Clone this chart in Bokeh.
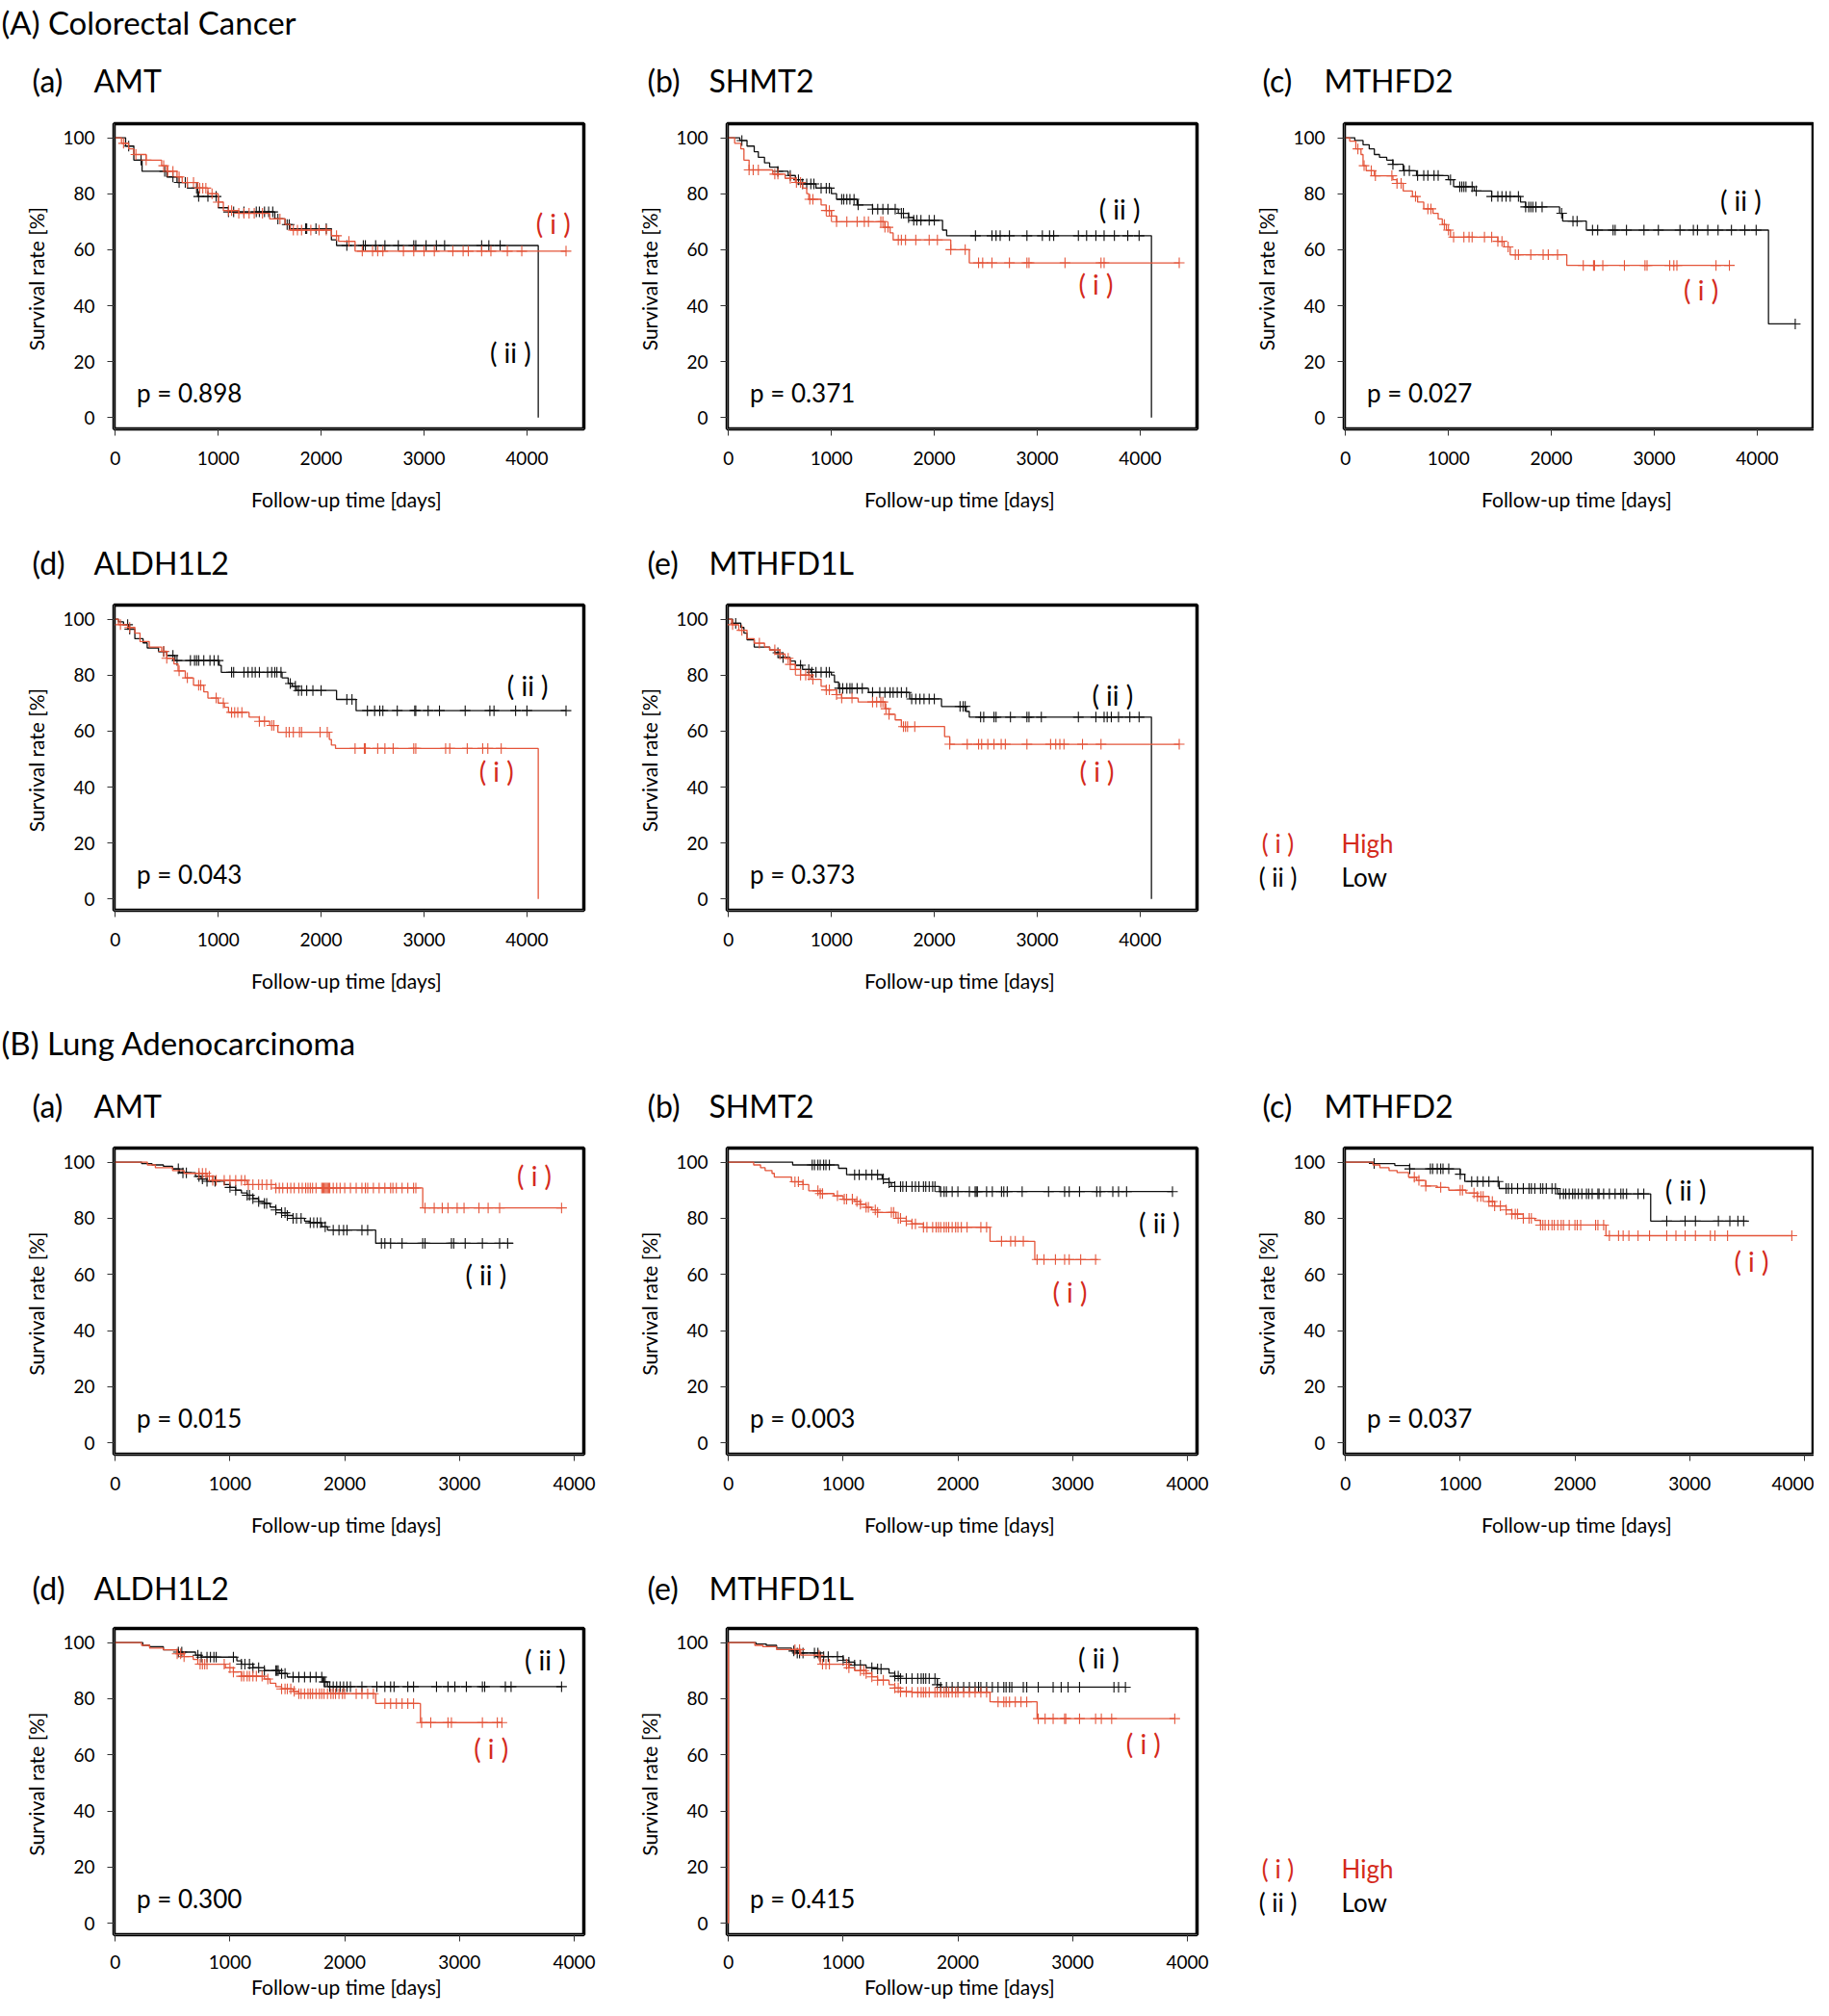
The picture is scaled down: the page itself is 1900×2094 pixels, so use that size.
import numpy as np
from bokeh.plotting import figure
from bokeh.layouts import column, row
from bokeh.models import Range1d, FixedTicker
from bokeh.core.properties import value
from bokeh.embed import file_html
from bokeh.resources import INLINE

FONT = "Lato"
RED_LINE = "#E4553A"
RED_TEXT = "#D42A1C"
BLACK = "#111111"

# ---------------- data: (A) Colorectal cancer ----------------
A_AMT_high_t = [0, 60, 130, 180, 300, 450, 500, 600, 650, 800, 900, 1000, 1050, 1200, 1500, 1650, 1700, 2100, 2170, 2330]
A_AMT_high_s = [100, 98, 96, 94, 92, 90, 88, 86, 84, 82, 80, 77, 74, 73, 71, 69, 67, 65, 63, 59.5]
A_AMT_high_end = 4380
A_AMT_high_cens = [80, 200, 300, 470, 510, 560, 620, 700, 760, 820, 850, 880, 940, 1000, 1100, 1130, 1200, 1250, 1300, 1350, 1430, 1600, 1730, 1770, 1810, 1900, 1980, 2050, 2150, 2270, 2400, 2500, 2550, 2600, 2800, 2900, 3000, 3100, 3280, 3380, 3430, 3560, 3650, 3810, 3950, 4380]
A_AMT_low_t = [0, 100, 180, 260, 500, 600, 700, 800, 1000, 1100, 1550, 1650, 1700, 2100, 2150, 4110]
A_AMT_low_s = [100, 97, 92, 88, 86, 84, 82, 79, 75, 73.5, 71, 69, 67.5, 63.5, 61.5, 0]
A_AMT_low_end = 4110
A_AMT_low_cens = [130, 250, 480, 560, 620, 680, 790, 810, 900, 980, 1100, 1150, 1250, 1370, 1400, 1450, 1490, 1530, 1580, 1670, 1690, 1850, 1860, 1950, 2050, 2250, 2410, 2430, 2530, 2620, 2750, 2900, 2920, 3020, 3120, 3200, 3560, 3630, 3740]

A_SHMT2_high_t = [0, 60, 120, 150, 200, 430, 550, 650, 720, 760, 780, 900, 950, 1000, 1050, 1520, 1570, 1600, 2160, 2340]
A_SHMT2_high_s = [100, 98, 96, 92, 88.5, 87, 85.5, 84, 82, 80, 78, 76, 74, 72, 70, 68, 66, 63.5, 60, 55.3]
A_SHMT2_high_end = 4380
A_SHMT2_high_cens = [200, 240, 290, 450, 480, 600, 660, 700, 790, 820, 950, 980, 1000, 1050, 1150, 1250, 1320, 1360, 1480, 1500, 1520, 1550, 1650, 1680, 1720, 1820, 1950, 2030, 2160, 2300, 2430, 2470, 2560, 2730, 2900, 2920, 3270, 3620, 3650, 4380]
A_SHMT2_low_t = [0, 110, 180, 250, 290, 350, 400, 480, 580, 650, 700, 850, 1000, 1050, 1250, 1400, 1650, 1750, 1800, 2080, 2120, 4110]
A_SHMT2_low_s = [100, 99, 97, 95, 93, 91, 89.5, 88, 86.5, 85, 83.5, 82, 80, 78, 76, 74.5, 73, 71.5, 70.5, 67, 65, 0]
A_SHMT2_low_end = 4110
A_SHMT2_low_cens = [130, 480, 600, 680, 720, 760, 800, 830, 900, 950, 980, 1100, 1120, 1150, 1180, 1220, 1260, 1400, 1450, 1500, 1550, 1620, 1680, 1700, 1750, 1800, 1830, 1870, 1950, 2000, 2400, 2560, 2600, 2640, 2730, 2900, 3050, 3120, 3160, 3400, 3480, 3570, 3650, 3750, 3880, 3990]

A_MTHFD2_high_t = [0, 40, 100, 150, 170, 200, 280, 460, 500, 560, 650, 700, 760, 850, 900, 940, 980, 1020, 1480, 1540, 1600, 2150]
A_MTHFD2_high_s = [100, 98.8, 96, 94, 90, 88.2, 86.4, 85, 83.7, 81, 79, 77, 74.6, 73, 71, 69, 67, 64.5, 63, 61, 58.2, 54.4]
A_MTHFD2_high_end = 3730
A_MTHFD2_high_cens = [120, 180, 250, 290, 450, 500, 540, 680, 800, 830, 960, 1000, 1050, 1150, 1200, 1230, 1350, 1420, 1480, 1520, 1580, 1650, 1680, 1800, 1920, 1970, 2060, 2310, 2410, 2420, 2500, 2710, 2910, 2930, 3150, 3190, 3220, 3600, 3730]
A_MTHFD2_low_t = [0, 90, 170, 230, 280, 330, 400, 460, 560, 690, 1000, 1050, 1250, 1420, 1700, 1750, 2080, 2110, 2340, 4110]
A_MTHFD2_low_s = [100, 99, 97.5, 96, 94, 93, 92, 90.5, 88.2, 86.5, 85, 82.5, 81, 79, 77, 75.3, 73, 70.2, 67, 33.5]
A_MTHFD2_low_end = 4370
A_MTHFD2_low_cens = [460, 570, 620, 700, 760, 800, 860, 900, 1020, 1110, 1130, 1150, 1170, 1230, 1270, 1420, 1480, 1520, 1560, 1600, 1680, 1750, 1780, 1800, 1820, 1850, 1910, 2100, 2210, 2250, 2400, 2450, 2600, 2620, 2730, 2900, 3040, 3250, 3380, 3420, 3520, 3620, 3750, 3880, 3990, 4370]

A_ALDH1L2_high_t = [0, 30, 120, 190, 240, 330, 450, 500, 570, 610, 680, 760, 860, 900, 1000, 1060, 1100, 1300, 1400, 1500, 1580, 2080, 2100, 2140, 4110]
A_ALDH1L2_high_s = [100, 98, 97, 95, 92, 90, 88.5, 86, 84, 81.5, 79, 76.4, 74, 71.8, 70, 68.5, 66.7, 65, 63.5, 62, 59.6, 57, 55, 53.8, 0]
A_ALDH1L2_high_end = 4110
A_ALDH1L2_high_cens = [50, 140, 470, 500, 620, 700, 810, 830, 980, 1050, 1130, 1160, 1190, 1230, 1400, 1450, 1520, 1540, 1660, 1690, 1730, 1790, 1810, 1990, 2060, 2330, 2420, 2430, 2550, 2620, 2700, 2900, 2920, 3210, 3250, 3420, 3570, 3620, 3750]
A_ALDH1L2_low_t = [0, 30, 80, 130, 190, 270, 310, 420, 500, 580, 1010, 1030, 1620, 1680, 1720, 1760, 2150, 2340]
A_ALDH1L2_low_s = [100, 99, 98, 96.4, 93, 91.5, 89.7, 88.4, 87, 85.2, 83.5, 81, 79, 77, 76, 74.5, 71.3, 67.3]
A_ALDH1L2_low_end = 4380
A_ALDH1L2_low_cens = [120, 140, 470, 560, 600, 730, 770, 790, 810, 860, 920, 960, 1000, 1130, 1150, 1250, 1290, 1330, 1360, 1400, 1480, 1520, 1550, 1570, 1610, 1700, 1750, 1780, 1810, 1860, 1920, 2000, 2250, 2300, 2450, 2520, 2570, 2600, 2740, 2910, 2920, 3040, 3150, 3400, 3640, 3680, 3890, 4000, 4380]

A_MTHFD1L_high_t = [0, 30, 100, 180, 250, 350, 400, 500, 550, 600, 650, 700, 800, 900, 950, 1050, 1100, 1260, 1520, 1560, 1620, 1680, 2100, 2150]
A_MTHFD1L_high_s = [100, 98, 96, 93, 91.4, 90, 89, 87.5, 86, 83.8, 82, 80, 78.5, 76, 74.7, 73, 71.8, 70.4, 68, 66, 64, 61.6, 58, 55.3]
A_MTHFD1L_high_end = 4380
A_MTHFD1L_high_cens = [40, 130, 300, 450, 500, 580, 600, 650, 700, 750, 780, 820, 950, 980, 1050, 1100, 1200, 1400, 1440, 1480, 1500, 1530, 1560, 1700, 1720, 1740, 1810, 2150, 2320, 2430, 2460, 2520, 2580, 2650, 2690, 2900, 3130, 3180, 3220, 3260, 3440, 3620, 4380]
A_MTHFD1L_low_t = [0, 40, 120, 150, 180, 250, 400, 450, 500, 600, 650, 720, 800, 1000, 1030, 1070, 1360, 1760, 2070, 2310, 2340, 4110]
A_MTHFD1L_low_s = [100, 98.5, 97, 95, 92.6, 90, 89, 88, 86.3, 85, 83.5, 82, 81, 80, 77.5, 75.3, 73.8, 71.5, 68.8, 67, 65, 0]
A_MTHFD1L_low_end = 4110
A_MTHFD1L_low_cens = [70, 480, 530, 700, 780, 810, 850, 900, 950, 980, 1080, 1110, 1150, 1180, 1200, 1250, 1300, 1400, 1470, 1520, 1570, 1600, 1640, 1680, 1730, 1780, 1820, 1860, 1900, 1950, 2000, 2250, 2280, 2300, 2450, 2480, 2580, 2600, 2740, 2900, 2920, 3040, 3400, 3570, 3650, 3680, 3720, 3790, 3900, 3990]

# ---------------- data: (B) Lung adenocarcinoma ----------------
B_AMT_high_t = [0, 280, 350, 500, 600, 800, 850, 1150, 1400, 2680]
B_AMT_high_s = [100, 99, 98, 97, 96, 95, 93.5, 92, 90.8, 83.7]
B_AMT_high_end = 3890
B_AMT_high_cens = [730, 760, 790, 820, 850, 880, 950, 1000, 1050, 1100, 1130, 1160, 1200, 1250, 1280, 1320, 1360, 1400, 1430, 1460, 1500, 1530, 1560, 1600, 1630, 1660, 1680, 1700, 1720, 1750, 1800, 1810, 1820, 1830, 1840, 1850, 1860, 1870, 1900, 1930, 1960, 2000, 2050, 2100, 2150, 2180, 2200, 2250, 2300, 2350, 2400, 2420, 2450, 2500, 2550, 2600, 2620, 2700, 2780, 2850, 2900, 2980, 3040, 3170, 3250, 3350, 3890]
B_AMT_low_t = [0, 230, 320, 420, 500, 560, 700, 750, 800, 950, 1000, 1050, 1100, 1150, 1200, 1250, 1300, 1350, 1400, 1450, 1500, 1550, 1650, 1700, 1800, 1850, 2270]
B_AMT_low_s = [100, 99.5, 99, 98.5, 97.6, 96.2, 94.9, 94, 93.2, 92, 91, 90, 89, 88.2, 87, 86, 85.3, 84, 83, 82, 81, 80, 79, 78.4, 77, 75.8, 71.1]
B_AMT_low_end = 3470
B_AMT_low_cens = [550, 590, 620, 730, 760, 800, 870, 1000, 1050, 1150, 1170, 1200, 1250, 1300, 1320, 1400, 1450, 1480, 1500, 1550, 1580, 1620, 1700, 1730, 1760, 1790, 1830, 1900, 1950, 1990, 2020, 2150, 2200, 2320, 2350, 2400, 2500, 2680, 2700, 2930, 2950, 3050, 3200, 3350, 3420]

B_SHMT2_high_t = [0, 220, 280, 320, 380, 400, 550, 650, 700, 800, 920, 1000, 1100, 1150, 1200, 1250, 1300, 1460, 1550, 1600, 1700, 2280, 2670]
B_SHMT2_high_s = [100, 99, 98, 97, 96, 94.7, 93, 92, 89.8, 88.8, 88, 86.8, 86, 85, 83.9, 83, 82.1, 80, 79, 78, 76.8, 71.8, 65.3]
B_SHMT2_high_end = 3220
B_SHMT2_high_cens = [580, 610, 650, 780, 800, 820, 950, 1010, 1030, 1080, 1120, 1150, 1200, 1220, 1280, 1300, 1420, 1440, 1480, 1500, 1550, 1600, 1630, 1700, 1730, 1780, 1810, 1830, 1850, 1880, 1900, 1920, 1950, 1980, 2000, 2030, 2080, 2200, 2250, 2380, 2460, 2500, 2570, 2690, 2750, 2850, 2930, 2970, 3070, 3200]
B_SHMT2_low_t = [0, 560, 960, 1030, 1340, 1400, 1420, 1840]
B_SHMT2_low_s = [100, 99, 97.8, 95.5, 94, 92.7, 91.3, 89.5]
B_SHMT2_low_end = 3870
B_SHMT2_low_cens = [730, 750, 780, 800, 830, 850, 880, 1100, 1140, 1200, 1250, 1300, 1350, 1400, 1450, 1500, 1520, 1550, 1600, 1630, 1660, 1700, 1720, 1750, 1780, 1800, 1850, 1880, 1900, 1950, 2000, 2100, 2150, 2160, 2170, 2250, 2300, 2380, 2400, 2430, 2560, 2790, 2930, 2970, 3060, 3210, 3240, 3350, 3400, 3470, 3870]

B_MTHFD2_high_t = [0, 240, 300, 380, 450, 550, 620, 700, 800, 900, 1050, 1150, 1250, 1300, 1400, 1450, 1550, 1650, 1700, 2270]
B_MTHFD2_high_s = [100, 99, 98, 97, 96.3, 94.6, 93.5, 91.5, 91, 90, 89, 87.8, 86, 84.4, 83, 81.5, 80, 79.3, 77.6, 73.8]
B_MTHFD2_high_end = 3890
B_MTHFD2_high_cens = [600, 640, 700, 830, 1000, 1020, 1120, 1150, 1180, 1200, 1250, 1280, 1300, 1350, 1400, 1450, 1480, 1500, 1550, 1600, 1620, 1700, 1720, 1740, 1770, 1800, 1820, 1850, 1880, 1900, 1950, 2000, 2020, 2050, 2180, 2200, 2250, 2300, 2380, 2420, 2470, 2550, 2650, 2800, 2880, 2960, 3050, 3180, 3220, 3330, 3890]
B_MTHFD2_low_t = [0, 240, 430, 560, 1000, 1040, 1340, 1850, 2660]
B_MTHFD2_low_s = [100, 99.5, 98.8, 97.6, 95.7, 93.1, 90.6, 88.7, 79]
B_MTHFD2_low_end = 3500
B_MTHFD2_low_cens = [250, 560, 740, 760, 800, 830, 850, 900, 1000, 1100, 1150, 1200, 1250, 1330, 1400, 1420, 1450, 1500, 1550, 1600, 1620, 1650, 1700, 1720, 1750, 1800, 1830, 1870, 1900, 1920, 1950, 1980, 2000, 2030, 2060, 2100, 2120, 2150, 2200, 2210, 2250, 2300, 2350, 2400, 2420, 2450, 2550, 2600, 2800, 2960, 3050, 3250, 3350, 3420, 3470]

B_ALDH1L2_high_t = [0, 230, 300, 420, 540, 600, 680, 720, 960, 1030, 1100, 1300, 1350, 1400, 1450, 1550, 1600, 2270, 2660]
B_ALDH1L2_high_s = [100, 99, 98, 97.4, 96, 95, 94, 92.3, 91, 89.5, 88, 87, 85.5, 84.3, 83.5, 82.6, 81.8, 78.3, 71.5]
B_ALDH1L2_high_end = 3370
B_ALDH1L2_high_cens = [540, 570, 600, 740, 760, 780, 800, 950, 1000, 1030, 1100, 1120, 1150, 1170, 1200, 1230, 1280, 1330, 1450, 1480, 1500, 1530, 1560, 1600, 1620, 1650, 1680, 1700, 1720, 1750, 1780, 1800, 1820, 1850, 1880, 1900, 1920, 1950, 1980, 2000, 2100, 2150, 2200, 2250, 2350, 2400, 2450, 2500, 2550, 2600, 2670, 2750, 2900, 2930, 3200, 3330, 3370]
B_ALDH1L2_low_t = [0, 240, 300, 420, 550, 700, 750, 1060, 1100, 1200, 1300, 1430, 1500, 1810, 1850]
B_ALDH1L2_low_s = [100, 99, 98.5, 97.4, 96.6, 95.5, 94.8, 93.5, 92.3, 91, 90, 89, 87.7, 86, 84.3]
B_ALDH1L2_low_end = 3890
B_ALDH1L2_low_cens = [550, 580, 720, 750, 800, 830, 860, 880, 1030, 1100, 1130, 1170, 1200, 1250, 1300, 1400, 1410, 1420, 1450, 1480, 1550, 1600, 1650, 1700, 1750, 1800, 1820, 1830, 1870, 1900, 1930, 1960, 1990, 2020, 2050, 2150, 2280, 2350, 2400, 2430, 2550, 2600, 2800, 2900, 2960, 3060, 3200, 3220, 3400, 3450, 3890]

B_MTHFD1L_high_t = [0, 230, 300, 420, 630, 800, 1050, 1100, 1200, 1250, 1300, 1400, 1450, 1500, 1600, 2280, 2690]
B_MTHFD1L_high_s = [100, 99, 98.5, 97.5, 95.5, 92.3, 91, 90, 89, 87.8, 86.6, 85, 83.8, 82.5, 82.3, 78.9, 72.9]
B_MTHFD1L_high_end = 3890
B_MTHFD1L_high_cens = [580, 620, 790, 820, 850, 880, 1030, 1050, 1150, 1180, 1200, 1250, 1300, 1350, 1450, 1480, 1500, 1550, 1600, 1650, 1680, 1700, 1720, 1750, 1800, 1820, 1850, 1880, 1900, 1920, 1950, 1980, 2000, 2050, 2100, 2150, 2200, 2250, 2350, 2400, 2420, 2450, 2500, 2550, 2600, 2700, 2760, 2830, 2930, 2940, 3060, 3200, 3250, 3340, 3890]
B_MTHFD1L_low_t = [0, 240, 330, 420, 550, 600, 800, 1000, 1050, 1100, 1200, 1300, 1400, 1450, 1500, 1820, 1850]
B_MTHFD1L_low_s = [100, 99.5, 99, 98, 97, 96.3, 95, 93.7, 93, 92, 91, 90.6, 89.1, 88, 87.2, 85, 84.1]
B_MTHFD1L_low_end = 3460
B_MTHFD1L_low_cens = [570, 600, 620, 650, 750, 780, 800, 830, 870, 950, 1000, 1050, 1100, 1150, 1250, 1300, 1330, 1450, 1480, 1500, 1550, 1600, 1650, 1680, 1700, 1720, 1750, 1800, 1820, 1850, 1900, 1950, 2000, 2050, 2100, 2150, 2180, 2200, 2250, 2300, 2350, 2400, 2420, 2450, 2470, 2570, 2600, 2700, 2830, 2900, 2960, 3060, 3360, 3400, 3460]
B_MTHFD1L_artifact_x = [0, 0]
B_MTHFD1L_artifact_y = [0, 100]

# p-values and labels
A_pvals = ["p = 0.898", "p = 0.371", "p = 0.027", "p = 0.043", "p = 0.373"]
B_pvals = ["p = 0.015", "p = 0.003", "p = 0.037", "p = 0.300", "p = 0.415"]
panel_letters = ["(a)", "(b)", "(c)", "(d)", "(e)"]
gene_names = ["AMT", "SHMT2", "MTHFD2", "ALDH1L2", "MTHFD1L"]
section_titles = ["(A) Colorectal Cancer", "(B) Lung Adenocarcinoma"]
group_marks = ["( i )", "( ii )"]
legend_names = ["High", "Low"]
x_ticks = [0, 1000, 2000, 3000, 4000]
y_ticks = [0, 20, 40, 60, 80, 100]

# annotation positions (data units) for "( i )" and "( ii )"
A_lab_i = [(4255, 69.4), (3570, 47.6), (3455, 45.7), (3703, 45.6), (3580, 45.6)]
A_lab_ii = [(3840, 23.5), (3800, 74.7), (3840, 77.6), (4007, 76.4), (3733, 73.0)]
B_lab_i = [(3652, 95.3), (2976, 53.9), (3538, 64.6), (3276, 62.2), (3617, 64.0)]
B_lab_ii = [(3231, 59.9), (3756, 78.6), (2965, 90.0), (3747, 94.0), (3227, 94.6)]

# ---------------- layout geometry (px) ----------------
COL_W = [638, 640, 606]
COL_LEFT = [118, 117, 118]
FRAME_W = 488
TOTAL_W = sum(COL_W)
TITLE_X = [(33, 97), (672, 736), (1311, 1375)]


def curve(t, s, end):
    return list(t) + [end], list(s) + [s[-1]]


def cens_y(t, s, c):
    idx = np.searchsorted(np.asarray(t, float), np.asarray(c, float), side="right") - 1
    return np.asarray(s, float)[idx]


def panel(col, height, top, bottom, xr, high, low, lab_i, lab_ii, ptxt,
          tick_standoff=16, label_standoff=20, extra=None):
    w = COL_W[col]
    right = w - COL_LEFT[col] - FRAME_W
    p = figure(width=w, height=height, x_range=Range1d(*xr), y_range=Range1d(-4, 105),
               output_backend="svg", toolbar_location=None, title=None,
               min_border_left=COL_LEFT[col], min_border_right=right,
               min_border_top=top, min_border_bottom=bottom)
    p.grid.visible = False
    p.outline_line_color = "black"
    p.outline_line_width = 3.5
    p.outline_line_alpha = 1.0
    p.background_fill_color = "white"
    p.border_fill_color = "white"
    p.xaxis.ticker = FixedTicker(ticks=x_ticks)
    p.yaxis.ticker = FixedTicker(ticks=y_ticks)
    p.xaxis.axis_label = "Follow-up time  [days]"
    p.yaxis.axis_label = "Survival rate  [%]"
    for ax in (p.xaxis[0], p.yaxis[0]):
        ax.axis_line_color = "#555555"
        ax.axis_line_width = 1
        ax.major_tick_line_color = "#333333"
        ax.major_tick_out = 7
        ax.major_tick_in = 0
        ax.minor_tick_line_color = None
        ax.major_label_text_font = FONT
        ax.major_label_text_font_size = "19px"
        ax.major_label_text_color = "black"
        ax.axis_label_text_font = FONT
        ax.axis_label_text_font_size = "21px"
        ax.axis_label_text_font_style = "normal"
        ax.axis_label_text_color = "black"
    p.xaxis.major_label_standoff = tick_standoff
    p.yaxis.major_label_standoff = 13
    p.xaxis.axis_label_standoff = label_standoff
    p.yaxis.axis_label_standoff = 12

    for (t, s, end, c), col_ in ((low, BLACK), (high, RED_LINE)):
        xs, ys = curve(t, s, end)
        p.step(xs, ys, mode="after", line_color=col_, line_width=1.3)
        p.scatter(c, cens_y(t, s, c), marker="cross", size=11, line_color=col_, line_width=1.1)
    if extra is not None:
        p.line(extra[0], extra[1], line_color=RED_LINE, line_width=1.5)

    p.text([lab_i[0]], [lab_i[1]], text=[group_marks[0]], text_font=value(FONT), text_font_size="28px",
           text_color=RED_TEXT, text_align="center", text_baseline="middle")
    p.text([lab_ii[0]], [lab_ii[1]], text=[group_marks[1]], text_font=value(FONT), text_font_size="28px",
           text_color="black", text_align="center", text_baseline="middle")
    p.text([xr[0] + 0.048 * (xr[1] - xr[0])], [9], text=[ptxt], text_font=value(FONT), text_font_size="26px",
           text_color="black", text_align="left", text_baseline="middle")
    return p


def blank(w, h, top=0, bottom=0):
    p = figure(width=w, height=h, x_range=Range1d(0, w), y_range=Range1d(h - bottom, top),
               output_backend="svg", toolbar_location=None, title=None,
               x_axis_type=None, y_axis_type=None, min_border=0,
               min_border_top=top, min_border_bottom=bottom, min_border_left=0, min_border_right=0)
    p.grid.visible = False
    p.outline_line_color = None
    p.background_fill_color = "white"
    p.border_fill_color = "white"
    return p


def title_strip(h, y_sec, sec_text, y_titles, idxs):
    p = blank(TOTAL_W, h)
    if sec_text is not None:
        p.text([1], [y_sec], text=[sec_text], text_font=value(FONT), text_font_size="33px",
               text_color="black", text_align="left", text_baseline="middle")
    for k, i in enumerate(idxs):
        xl, xg = TITLE_X[k]
        p.text([xl, xg], [y_titles, y_titles], text=[panel_letters[i], gene_names[i]],
               text_font=value(FONT), text_font_size="32px", text_color="black",
               text_align="left", text_baseline="middle")
    return p


def legend_fig(w, h, top, bottom, y1, y2):
    p = blank(w, h, top, bottom)
    p.text([49, 49], [y1, y2], text=group_marks, text_font=value(FONT), text_font_size="26px",
           text_color=[RED_TEXT, "black"], text_align="center", text_baseline="middle")
    p.text([115, 115], [y1, y2], text=legend_names, text_font=value(FONT), text_font_size="26px",
           text_color=[RED_TEXT, "black"], text_align="left", text_baseline="middle")
    return p


A_sets = [
    ((A_AMT_high_t, A_AMT_high_s, A_AMT_high_end, A_AMT_high_cens), (A_AMT_low_t, A_AMT_low_s, A_AMT_low_end, A_AMT_low_cens)),
    ((A_SHMT2_high_t, A_SHMT2_high_s, A_SHMT2_high_end, A_SHMT2_high_cens), (A_SHMT2_low_t, A_SHMT2_low_s, A_SHMT2_low_end, A_SHMT2_low_cens)),
    ((A_MTHFD2_high_t, A_MTHFD2_high_s, A_MTHFD2_high_end, A_MTHFD2_high_cens), (A_MTHFD2_low_t, A_MTHFD2_low_s, A_MTHFD2_low_end, A_MTHFD2_low_cens)),
    ((A_ALDH1L2_high_t, A_ALDH1L2_high_s, A_ALDH1L2_high_end, A_ALDH1L2_high_cens), (A_ALDH1L2_low_t, A_ALDH1L2_low_s, A_ALDH1L2_low_end, A_ALDH1L2_low_cens)),
    ((A_MTHFD1L_high_t, A_MTHFD1L_high_s, A_MTHFD1L_high_end, A_MTHFD1L_high_cens), (A_MTHFD1L_low_t, A_MTHFD1L_low_s, A_MTHFD1L_low_end, A_MTHFD1L_low_cens)),
]
B_sets = [
    ((B_AMT_high_t, B_AMT_high_s, B_AMT_high_end, B_AMT_high_cens), (B_AMT_low_t, B_AMT_low_s, B_AMT_low_end, B_AMT_low_cens)),
    ((B_SHMT2_high_t, B_SHMT2_high_s, B_SHMT2_high_end, B_SHMT2_high_cens), (B_SHMT2_low_t, B_SHMT2_low_s, B_SHMT2_low_end, B_SHMT2_low_cens)),
    ((B_MTHFD2_high_t, B_MTHFD2_high_s, B_MTHFD2_high_end, B_MTHFD2_high_cens), (B_MTHFD2_low_t, B_MTHFD2_low_s, B_MTHFD2_low_end, B_MTHFD2_low_cens)),
    ((B_ALDH1L2_high_t, B_ALDH1L2_high_s, B_ALDH1L2_high_end, B_ALDH1L2_high_cens), (B_ALDH1L2_low_t, B_ALDH1L2_low_s, B_ALDH1L2_low_end, B_ALDH1L2_low_cens)),
    ((B_MTHFD1L_high_t, B_MTHFD1L_high_s, B_MTHFD1L_high_end, B_MTHFD1L_high_cens), (B_MTHFD1L_low_t, B_MTHFD1L_low_s, B_MTHFD1L_low_end, B_MTHFD1L_low_cens)),
]

XR_A = (-12, 4553)
XR_B = (-10, 4084)

A_panels = []
for i in range(5):
    col = i if i < 3 else i - 3
    A_panels.append(panel(col, 430, 20, 93, XR_A, A_sets[i][0], A_sets[i][1], A_lab_i[i], A_lab_ii[i], A_pvals[i]))
B_panels = []
for i in range(5):
    col = i if i < 3 else i - 3
    last = i >= 3
    B_panels.append(panel(col, 407 if last else 431, 20, 69 if last else 93, XR_B, B_sets[i][0], B_sets[i][1],
                          B_lab_i[i], B_lab_ii[i], B_pvals[i],
                          tick_standoff=14 if last else 16, label_standoff=3 if last else 20,
                          extra=(B_MTHFD1L_artifact_x, B_MTHFD1L_artifact_y) if i == 4 else None))

layout = column(
    title_strip(108, 22, section_titles[0], 83, [0, 1, 2]),
    row(A_panels[0], A_panels[1], A_panels[2]),
    title_strip(70, 0, None, 46, [3, 4]),
    row(A_panels[3], A_panels[4], legend_fig(COL_W[2], 430, 20, 93, 267, 302)),
    title_strip(134, 44, section_titles[1], 110, [0, 1, 2]),
    row(B_panels[0], B_panels[1], B_panels[2]),
    title_strip(68, 0, None, 46, [3, 4]),
    row(B_panels[3], B_panels[4], legend_fig(COL_W[2], 407, 20, 69, 269, 304)),
)

with open("out.html", "w") as f:
    f.write(file_html(layout, INLINE))
